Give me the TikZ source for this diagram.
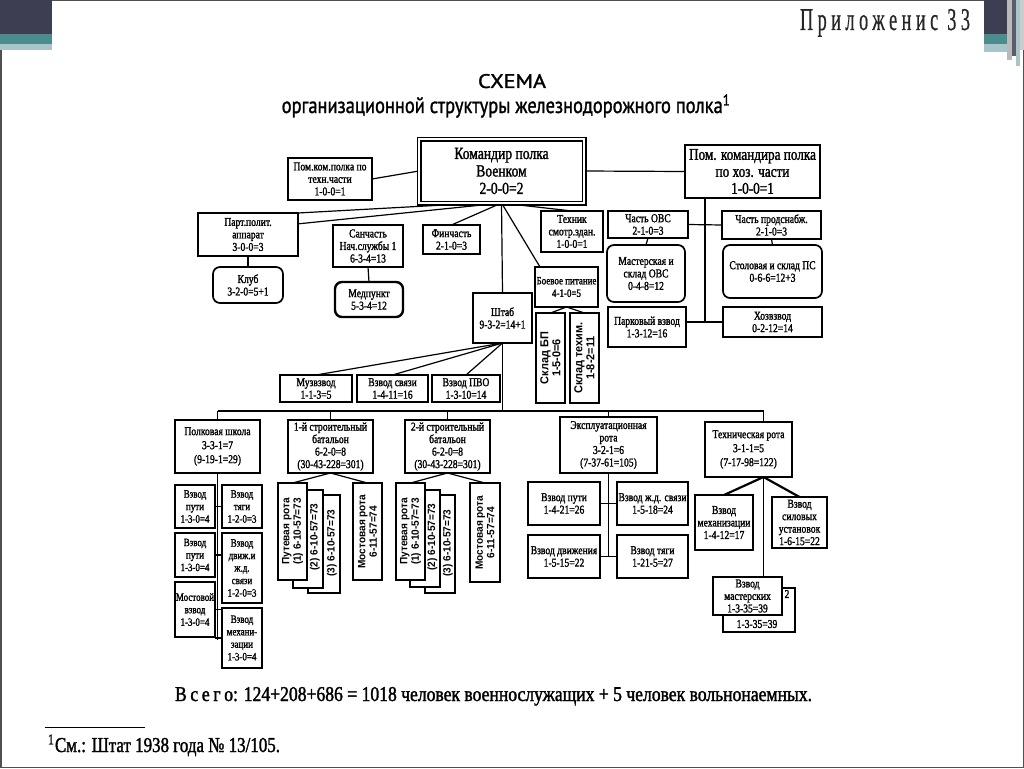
\documentclass[tikz,border=0pt]{standalone}
\usepackage{fontspec}
\usepackage{graphicx}
\setmainfont{Liberation Serif}
\newfontfamily\scanfont{Liberation Serif}[FakeStretch=0.8,FakeBold=1.5]
\newfontfamily\vsans{Liberation Sans}[FakeStretch=0.95]
\newfontfamily\titlefont{PT Sans}[FakeStretch=0.82,FakeBold=1.2]
\newfontfamily\headfont{Liberation Serif}[LetterSpace=25,FakeBold=0.8]
\usetikzlibrary{calc,backgrounds}
\definecolor{decdark}{HTML}{3E3E52}
\definecolor{decteal}{HTML}{4C8C8E}
\definecolor{declight}{HTML}{A9C5C9}
\definecolor{framec}{HTML}{505050}

\newcommand{\bx}[7][]{%
  \pgfmathsetmacro\bxcx{(#3+#5)/2}%
  \pgfmathsetmacro\bxcy{(#4+#6)/2}%
  \pgfmathsetmacro\bxw{#5-#3}%
  \pgfmathsetmacro\bxh{#6-#4}%
  \node[box,minimum width=\bxw pt,minimum height=\bxh pt,#1] (#2) at (\bxcx,\bxcy) {#7};}
\newcommand{\vbx}[7][]{%
  \pgfmathsetmacro\bxcx{(#3+#5)/2}%
  \pgfmathsetmacro\bxcy{(#4+#6)/2}%
  \pgfmathsetmacro\bxw{#5-#3}%
  \pgfmathsetmacro\bxh{#6-#4}%
  \node[box,vtext,rotate=90,minimum width=\bxh pt,minimum height=\bxw pt,#1] (#2) at (\bxcx,\bxcy) {#7};}

\begin{document}
\begin{tikzpicture}[x=1pt,y=-1pt,
  box/.style={draw,line width=1.7pt,fill=white,inner sep=0pt,outer sep=0pt,align=center,
    font=\scanfont\fontsize{12}{12.5}\selectfont},
  rbox/.style={rounded corners=7pt},
  vtext/.style={font=\vsans\bfseries\fontsize{10.6}{11.5}\selectfont},
  vbig/.style={font=\vsans\bfseries\fontsize{11.5}{12}\selectfont},
  sub/.style={font=\scanfont\fontsize{11.2}{12.5}\selectfont},
  conn/.style={line width=1.2pt},
  thickconn/.style={line width=2.2pt},
  plain/.style={inner sep=0pt,outer sep=0pt}]
\useasboundingbox (0,0) rectangle (1024,768);
\begin{scope}[on background layer]
\fill[white] (0,0) rectangle (1024,768);
\end{scope}
% slide decoration
\draw[framec,line width=1.5pt] (0.75,0.75) rectangle (1023.25,767.25);
\fill[decdark] (0,0) rectangle (52,34);
\fill[decteal] (0,34) rectangle (52,44);
\fill[declight] (0,44) rectangle (52,50);
\fill[decdark] (984,0) rectangle (1007,34);
\fill[decteal] (984,34) rectangle (1007,44);
\fill[declight] (984,44) rectangle (1007,52);
\fill[gray!55] (1007,0) rectangle (1012,60);
\fill[decdark!85] (1012,0) rectangle (1016,56);
\fill[declight] (1016,0) rectangle (1020,66);
\fill[gray!40] (1020,0) rectangle (1024,50);

% headings
\node[plain,anchor=base west,text=black!85] (head) at (800,30)
  {\resizebox{170pt}{21pt}{\headfont Приложенис 33}};
\node[plain,anchor=base] (schema) at (512,88) {\resizebox{68pt}{14pt}{\titlefont СХЕМА}};
\node[plain,anchor=base] (title) at (506,113)
  {\titlefont\fontsize{22.5}{24}\selectfont организационной структуры железнодорожного полка\textsuperscript{1}};

% top level
\bx{pomt}{288}{158}{372}{200}{Пом.ком.полка по\\техн.части\\1-0-0=1}
\bx[double,double distance=2pt,line width=1.5pt,font=\scanfont\fontsize{17}{17.5}\selectfont]{cmd}{419}{139}{584}{203}{Командир полка\\Военком\\2-0-0=2}
\bx[font=\scanfont\fontsize{16.5}{17}\selectfont]{pomk}{685}{145}{820}{198}{Пом. командира полка\\по хоз. части\\1-0-0=1}

% second row
\bx{pp}{198}{213}{298}{256}{Парт.полит.\\аппарат\\3-0-0=3}
\bx{san}{333}{225}{403}{267}{Санчасть\\Нач.службы 1\\6-3-4=13}
\bx{fin}{423}{225}{480}{254}{Финчасть\\2-1-0=3}
\bx{tech}{541}{211}{603}{252}{Техник\\смотр.здан.\\1-0-0=1}
\bx{ovs}{608}{211}{688}{238}{Часть ОВС\\2-1-0=3}
\bx{prod}{722}{211}{821}{239}{Часть продснабж.\\2-1-0=3}

\bx[rbox]{klub}{213}{267}{283}{303}{Клуб\\3-2-0=5+1}
\bx[rbox,line width=2.4pt]{med}{335}{282}{403}{317}{Медпункт\\5-3-4=12}
\bx[rbox]{mast}{607}{245}{685}{302}{Мастерская и\\склад ОВС\\0-4-8=12}
\bx[rbox]{stol}{723}{245}{822}{298}{Столовая и склад ПС\\0-6-6=12+3}
\bx[font=\scanfont\fontsize{11.2}{12.5}\selectfont]{bp}{535}{267}{598}{307}{Боевое питание\\4-1-0=5}
\bx{shtab}{473}{293}{532}{343}{Штаб\\9-3-2=14+1}
\vbx[vbig]{skbp}{536}{313}{565}{403}{Склад БП\\1-5-0=6}
\vbx[vbig]{sktech}{570}{313}{599}{403}{Склад техим.\\1-8-2=11}
\bx{park}{608}{307}{686}{347}{Парковый взвод\\1-3-12=16}
\bx{hoz}{723}{307}{822}{337}{Хозвзвод\\0-2-12=14}

\bx{muz}{280}{375}{352}{402}{Музвзвод\\1-1-3=5}
\bx{svz}{357}{375}{428}{402}{Взвод связи\\1-4-11=16}
\bx{pvo}{432}{375}{500}{402}{Взвод ПВО\\1-3-10=14}

% bottom row
\bx[font=\scanfont\fontsize{12}{14}\selectfont]{school}{175}{420}{260}{473}{Полковая школа\\3-3-1=7\\(9-19-1=29)}
\bx{bat1}{288}{420}{373}{473}{1-й строительный\\батальон\\6-2-0=8\\(30-43-228=301)}
\bx{bat2}{405}{420}{490}{473}{2-й строительный\\батальон\\6-2-0=8\\(30-43-228=301)}
\bx{expl}{560}{417}{657}{473}{Эксплуатационная\\рота\\3-2-1=6\\(7-37-61=105)}
\bx[font=\scanfont\fontsize{12}{14}\selectfont]{techr}{705}{422}{792}{477}{Техническая рота\\3-1-1=5\\(7-17-98=122)}

% school platoons
\bx[sub]{vp1}{175}{485}{215}{528}{Взвод\\пути\\1-3-0=4}
\bx[sub]{vtg}{222}{485}{262}{528}{Взвод\\тяги\\1-2-0=3}
\bx[sub]{vp2}{175}{533}{215}{577}{Взвод\\пути\\1-3-0=4}
\bx[sub]{vdv}{222}{533}{262}{603}{Взвод\\движ.и\\ж.д.\\связи\\1-2-0=3}
\bx[sub]{most0}{175}{582}{215}{637}{Мостовой\\взвод\\1-3-0=4}
\bx[sub]{vmx}{222}{608}{262}{668}{Взвод\\механи-\\зации\\1-3-0=4}

% battalion 1 companies
\bx{put3}{308}{495}{340}{593}{}
\bx{put2}{293}{490}{323}{588}{}
\vbx{put1}{278}{483}{307}{580}{Путевая рота\\(1) 6-10-57=73}
\node[plain,vtext,rotate=90] (put2t) at (315,537) {(2) 6-10-57=73};
\node[plain,vtext,rotate=90] (put3t) at (332,543) {(3) 6-10-57=73};
\vbx{most1}{353}{483}{382}{580}{Мостовая рота\\6-11-57=74}
% battalion 2 companies
\bx{put3b}{425}{495}{455}{593}{}
\bx{put2b}{410}{490}{440}{587}{}
\vbx{put1b}{396}{483}{425}{580}{Путевая рота\\(1) 6-10-57=73}
\node[plain,vtext,rotate=90] (put2bt) at (432.5,537) {(2) 6-10-57=73};
\node[plain,vtext,rotate=90] (put3bt) at (448,543) {(3) 6-10-57=73};
\vbx{most2}{470}{483}{500}{582}{Мостовая рота\\6-11-57=74}

% exploitation company platoons
\bx{evp}{528}{482}{600}{525}{Взвод пути\\1-4-21=26}
\bx{ezd}{617}{482}{688}{525}{Взвод ж.д. связи\\1-5-18=24}
\bx{edv}{528}{535}{600}{578}{Взвод движения\\1-5-15=22}
\bx{ety}{617}{535}{688}{578}{Взвод тяги\\1-21-5=27}

% technical company platoons
\bx{tmx}{695}{495}{753}{550}{Взвод\\механизации\\1-4-12=17}
\bx{tsu}{772}{497}{827}{548}{Взвод\\силовых\\установок\\1-6-15=22}
\bx{tms2}{723}{588}{795}{632}{}
\node[plain,font=\scanfont\fontsize{12}{12}\selectfont] (tms2a) at (787,594) {2};
\node[plain,font=\scanfont\fontsize{12}{12}\selectfont] (tms2b) at (757,624) {1-3-35=39};
\bx{tms}{713}{577}{782}{615}{Взвод\\мастерских\\1-3-35=39}

% footer
\node[plain,anchor=base west] (total) at (175,701)
  {\resizebox{637pt}{14pt}{\scanfont В\,с\,е\,г\,о: 124+208+686 = 1018 человек военнослужащих + 5 человек вольнонаемных.}};
\draw[line width=0.8pt] (45,727) -- (145,727);
\node[plain,anchor=base west] (foot) at (48,752)
  {\resizebox{232pt}{!}{\scanfont\textsuperscript{1}См.: Штат 1938 года № 13/105.}};

% connectors
\begin{scope}[on background layer]
\draw[conn] (pomt.east) -- (cmd.west);
\draw[conn] (cmd.east) -- (pomk.west);
\draw[conn] (cmd.south) -- (pp.12);
\draw[conn] ($(cmd.south)+(-3,-1)$) -- (pp.north east);
\draw[conn] (cmd.south) -- (fin.north);
\draw[conn] (cmd.south) -- (shtab.north);
\draw[conn] (cmd.south) -- ($(bp.north west)+(5,0)$);
\draw[conn] (cmd.south) -- (tech.north);
\coordinate (kt) at ($(pomk.south west)+(20,0)$);
\coordinate (kb) at (kt |- hoz.west);
\draw[conn] (kt) -- (kb);
\draw[conn] (ovs.east) -- (prod.west);
\draw[conn] (park.east |- kb) -- (hoz.west);
\draw[conn] (ovs.south) -- (mast.north);
\draw[conn] (prod.south) -- (stol.north);
\draw[conn] (pp.south) -- (klub.north);
\draw[conn] (san.south) -- (med.north);
\draw[conn] (bp.south) -- (skbp.east);
\draw[conn] (bp.south) -- (sktech.east);
\draw[conn] (shtab.south) -- (muz.north);
\draw[conn] (shtab.south) -- (svz.north);
\draw[conn] (shtab.south) -- (pvo.north);
\path (shtab.south) ++(0,68) coordinate (bus);
\coordinate (ttop) at ($(techr.north)+(15,0)$);
\draw[conn] (shtab.south) -- (bus);
\draw[conn] (school.north |- bus) -- (ttop |- bus);
\draw[conn] (school.north |- bus) -- (school.north);
\draw[conn] (bat1.north |- bus) -- (bat1.north);
\draw[conn] (bat2.north |- bus) -- (bat2.north);
\draw[conn] (expl.north |- bus) -- (expl.north);
\draw[conn] (ttop |- bus) -- (ttop);
% school trunk
\coordinate (sbot) at ($(school.south)+(0,167)$);
\draw[conn] (school.south) -- (sbot);
\draw[conn] (vp1.east) -- (vtg.west);
\draw[conn] (vp2.east) -- (vp2.east -| vdv.west);
\draw[conn] (most0.east) -- (most0.east -| vmx.west);
\draw[conn] (vmx.west) -- (vmx.west -| most0.east);
% battalions
\draw[conn] (bat1.south) -- (put1.east);
\draw[conn] (bat1.south) -- (most1.east);
\draw[conn] (bat2.south) -- (put1b.east);
\draw[conn] (bat2.south) -- (most2.east);
% exploitation
\draw[conn] (expl.south) -- (expl.south |- edv.east);
\draw[conn] (evp.east) -- (ezd.west);
\draw[conn] (edv.east) -- (ety.west);
% technical
\coordinate (tbot) at ($(techr.south)+(15,0)$);
\draw[thickconn] (tbot) -- (tmx.north);
\draw[thickconn] (tbot) -- (tsu.north);
\draw[conn] (tbot) -- (tbot |- tms.north);
\end{scope}
\end{tikzpicture}
\end{document}
